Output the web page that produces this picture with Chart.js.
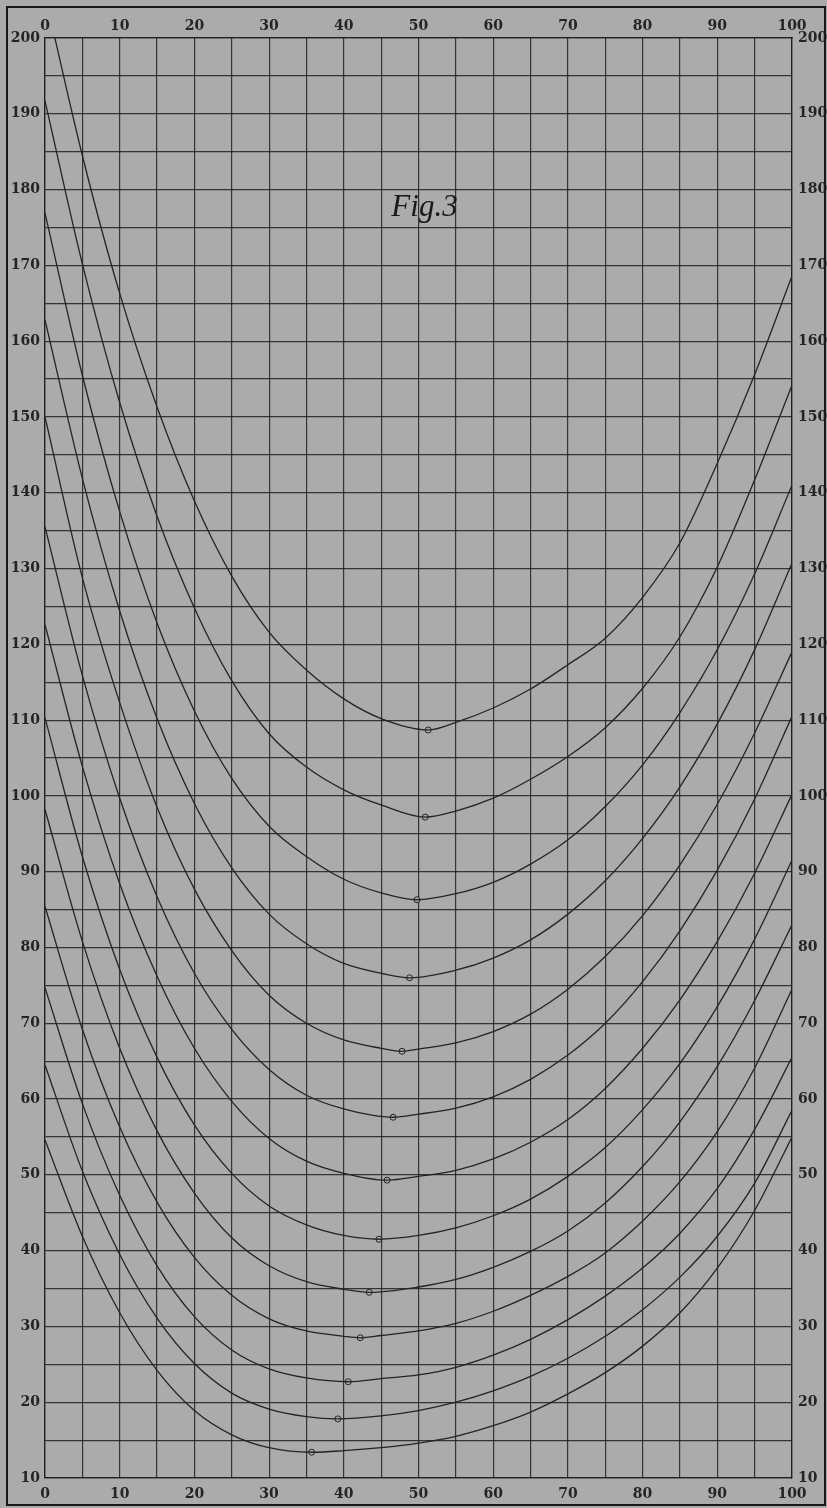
<!DOCTYPE html>
<html>
<head>
<meta charset="utf-8">
<title>Fig. 3</title>
<script src="https://cdn.jsdelivr.net/npm/chart.js"></script>
<style>
  html, body { margin: 0; padding: 0; background: #aaaaaa; }
  #wrap { width: 827px; height: 1508px; }
</style>
</head>
<body>
<div id="wrap"><canvas id="fig3" width="827" height="1508"></canvas></div>
<script>
// x positions where the curves were read (every 5 units)
const gridX = [0, 5, 10, 15, 20, 25, 30, 35, 40, 45, 50, 55, 60, 65, 70, 75, 80, 85, 90, 95, 100];

// the curves, top to bottom; null = too close to the marked minimum
const curve1  = [205.7, 184.5, 166.3, 151.3, 138.9, 129.0, 121.6, 116.6, 112.8, 110.2, null, 109.7, 111.6, 114.1, 117.3, 120.8, 126.2, 133.4, 143.9, 155.6, 168.6];
const curve2  = [191.7, 170.2, 151.9, 136.9, 124.8, 115.2, 108.2, 103.8, 100.8, 98.8, null, 98.0, 99.7, 102.2, 105.2, 109.0, 114.2, 121.0, 130.2, 141.7, 154.2];
const curve3  = [176.9, 155.5, 137.5, 122.8, 111.2, 102.3, 96.0, 92.0, 89.0, 87.2, null, 87.1, 88.6, 91.0, 94.2, 98.6, 104.1, 111.0, 119.3, 129.3, 141.0];
const curve4  = [162.8, 141.9, 124.4, 110.2, 99.0, 90.5, 84.4, 80.5, 77.9, 76.6, null, 77.0, 78.6, 81.0, 84.4, 88.8, 94.4, 101.2, 109.5, 119.3, 130.7];
const curve5  = [150.0, 128.8, 112.3, 98.5, 87.7, 79.6, 73.7, 70.0, 67.8, 66.7, 66.6, 67.4, 68.9, 71.2, 74.5, 78.8, 84.2, 90.9, 98.9, 108.3, 119.0];
const curve6  = [135.5, 115.9, 99.7, 86.7, 76.6, 69.2, 63.9, 60.5, 58.7, null, 58.0, 58.8, 60.3, 62.6, 65.8, 70.0, 75.5, 82.2, 90.2, 99.6, 110.5];
const curve7  = [122.6, 103.9, 88.4, 76.2, 66.7, 59.7, 54.8, 51.8, 50.2, null, 49.8, 50.6, 52.1, 54.3, 57.3, 61.4, 66.7, 73.1, 80.8, 89.8, 100.2];
const curve8  = [110.3, 92.0, 77.1, 65.5, 56.6, 50.2, 45.9, 43.4, 42.0, null, 42.0, 43.0, 44.6, 46.8, 49.8, 53.6, 58.6, 64.7, 72.2, 81.1, 91.5];
const curve9  = [98.2, 80.8, 66.7, 55.8, 47.6, 41.7, 38.0, 35.9, 34.9, null, 35.2, 36.2, 37.8, 39.9, 42.6, 46.3, 51.1, 57.0, 64.3, 73.0, 83.0];
const curve10 = [85.4, 69.2, 56.3, 46.4, 39.1, 34.1, 31.0, 29.4, 28.7, 28.8, 29.4, 30.4, 32.0, 34.1, 36.6, 39.7, 43.9, 49.1, 55.7, 64.1, 74.5];
const curve11 = [74.7, 59.4, 47.3, 38.0, 31.3, 26.9, 24.4, 23.2, null, 23.1, 23.6, 24.6, 26.2, 28.3, 30.9, 34.0, 37.7, 42.3, 48.2, 56.0, 65.5];
const curve12 = [64.5, 50.5, 39.5, 31.1, 25.1, 21.2, 19.1, 18.1, null, 18.2, 18.9, 20.0, 21.5, 23.4, 25.8, 28.7, 32.2, 36.5, 41.9, 48.9, 58.5];
const curve13 = [54.6, 41.9, 31.8, 24.2, 18.9, 15.7, 14.0, null, 13.6, 14.0, 14.6, 15.5, 16.9, 18.7, 21.1, 23.9, 27.4, 31.8, 37.7, 45.3, 55.0];

// small circles at the lowest point of each curve
const minX = [51.3, 50.9, 49.8, 48.8, 47.8, 46.6, 45.8, 44.7, 43.4, 42.2, 40.6, 39.2, 35.7];
const minY = [108.7, 97.2, 86.3, 76.0, 66.3, 57.6, 49.3, 41.5, 34.5, 28.5, 22.7, 17.8, 13.4];

const curves = [curve1, curve2, curve3, curve4, curve5, curve6, curve7,
                curve8, curve9, curve10, curve11, curve12, curve13];

const paper = 'rgb(171,171,171)';
const ink = 'rgb(36,36,36)';

const datasets = curves.map((ys, i) => {
  const pts = gridX.map((x, j) => ({x: x, y: ys[j]})).filter(p => p.y !== null);
  pts.push({x: minX[i], y: minY[i]});
  pts.sort((a, b) => a.x - b.x);
  return {
    label: 'Kurve ' + (i + 1),
    data: pts,
    borderColor: ink,
    borderWidth: 1.3,
    pointRadius: 0,
    cubicInterpolationMode: 'monotone',
    fill: false
  };
});

datasets.push({
  label: 'Minima',
  data: minX.map((x, i) => ({x: x, y: minY[i]})),
  showLine: false,
  pointRadius: 3,
  pointBorderWidth: 1,
  pointBorderColor: ink,
  pointBackgroundColor: paper
});

// every 5 units a grid line, every 10 a number
const tenOnly = v => (v % 10 === 0 ? String(v) : '');

const gridOpts = {color: 'rgba(30,30,30,0.85)', lineWidth: 1.2, drawTicks: false};
const borderOpts = {color: 'rgba(30,30,30,0.9)', width: 1.3};
const tickFont = {family: '"DejaVu Serif"', size: 14, weight: 'bold'};

const paperPlugin = {
  id: 'paper',
  beforeDraw(chart) {
    const ctx = chart.ctx;
    ctx.save();
    ctx.fillStyle = paper;
    ctx.fillRect(0, 0, chart.width, chart.height);
    ctx.restore();
  },
  afterDraw(chart) {
    const ctx = chart.ctx;
    ctx.save();
    // outer frame of the sheet
    ctx.strokeStyle = 'rgb(25,25,25)';
    ctx.lineWidth = 2;
    ctx.strokeRect(7, 7, 818, 1498);
    // figure caption
    const sx = chart.scales.x, sy = chart.scales.y;
    ctx.fillStyle = 'rgb(25,25,25)';
    ctx.font = 'italic 31px "Liberation Serif"';
    ctx.textAlign = 'center';
    ctx.textBaseline = 'middle';
    ctx.fillText('Fig.3', sx.getPixelForValue(50.8), sy.getPixelForValue(177.6));
    ctx.restore();
  }
};

new Chart(document.getElementById('fig3'), {
  type: 'line',
  data: {datasets: datasets},
  options: {
    responsive: false,
    animation: false,
    layout: {padding: 0},
    plugins: {legend: {display: false}, tooltip: {enabled: false}},
    scales: {
      x: {
        type: 'linear', position: 'bottom', min: 0, max: 100,
        afterFit: s => { s.height = 30; },
        grid: gridOpts, border: borderOpts,
        ticks: {stepSize: 5, autoSkip: false, maxRotation: 0, padding: 8, color: ink, font: tickFont, callback: tenOnly}
      },
      x2: {
        type: 'linear', position: 'top', min: 0, max: 100,
        afterFit: s => { s.height = 38; },
        grid: {display: false, drawTicks: false}, border: borderOpts,
        ticks: {stepSize: 5, autoSkip: false, maxRotation: 0, padding: 3, color: ink, font: tickFont, callback: tenOnly}
      },
      y: {
        type: 'linear', position: 'left', min: 10, max: 200,
        afterFit: s => { s.width = 45; },
        grid: gridOpts, border: borderOpts,
        ticks: {stepSize: 5, autoSkip: false, padding: 5, color: ink, font: tickFont, callback: tenOnly}
      },
      y2: {
        type: 'linear', position: 'right', min: 10, max: 200,
        afterFit: s => { s.width = 35; },
        grid: {display: false, drawTicks: false}, border: borderOpts,
        ticks: {stepSize: 5, autoSkip: false, padding: 6, color: ink, font: tickFont, callback: tenOnly}
      }
    }
  },
  plugins: [paperPlugin]
});
</script>
</body>
</html>
